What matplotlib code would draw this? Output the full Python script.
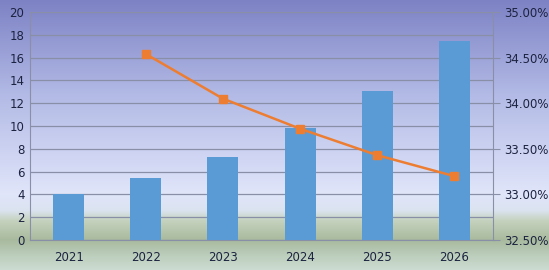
import numpy as np
import matplotlib.pyplot as plt
from matplotlib.colors import LinearSegmentedColormap
from matplotlib.ticker import FuncFormatter

years = ["2021", "2022", "2023", "2024", "2025", "2026"]
bar_values = [4.0, 5.4, 7.3, 9.8, 13.1, 17.5]
line_years = ["2022", "2023", "2024", "2025", "2026"]
line_values = [34.54, 34.05, 33.72, 33.43, 33.20]

fig = plt.figure(figsize=(5.49, 2.70), dpi=100)

# background gradient over the whole figure (top -> bottom)
bg = fig.add_axes([0, 0, 1, 1], zorder=0)
stops = [(0.0, (0.49, 0.51, 0.77)),
         (0.35, (0.70, 0.73, 0.90)),
         (0.72, (0.88, 0.90, 0.98)),
         (0.78, (0.86, 0.89, 0.94)),
         (0.82, (0.77, 0.82, 0.74)),
         (0.89, (0.66, 0.73, 0.62)),
         (0.95, (0.74, 0.81, 0.74)),
         (1.0, (0.80, 0.86, 0.82))]
cmap = LinearSegmentedColormap.from_list("bg", stops)
grad = np.linspace(0, 1, 256).reshape(-1, 1)
bg.imshow(grad, aspect="auto", cmap=cmap, extent=[0, 1, 0, 1], origin="upper")
bg.axis("off")

ax = fig.add_axes([30/549, 30/270, 463/549, 228/270], zorder=1)
ax.patch.set_alpha(0)
x = np.arange(len(years))
ax.bar(x, bar_values, width=0.4, color="#5B9BD5", zorder=3)
ax.set_xlim(-0.5, len(years) - 0.5)
ax.set_ylim(0, 20)
ax.set_yticks(range(0, 21, 2))
ax.set_xticks(x)
ax.set_xticklabels(years)
ax.grid(axis="y", color="#8a8fa8", linewidth=0.9, zorder=0)
ax.set_axisbelow(True)
for s in ["top", "right"]:
    ax.spines[s].set_visible(False)
ax.spines["left"].set_color("#8a8fa8")
ax.spines["bottom"].set_color("#8a8fa8")
ax.tick_params(axis="both", length=0, labelsize=8.5, labelcolor="#1c2340")
ax.tick_params(axis="x", pad=8)
ax.tick_params(axis="y", pad=4)

ax2 = ax.twinx()
ax2.patch.set_alpha(0)
lx = [years.index(y) for y in line_years]
ax2.plot(lx, line_values, color="#ED7D31", linewidth=1.8, marker="s",
         markersize=5.5, zorder=4)
ax2.set_ylim(32.5, 35.0)
ax2.set_yticks(np.arange(32.5, 35.01, 0.5))
ax2.yaxis.set_major_formatter(FuncFormatter(lambda v, p: "%.2f%%" % v))
for s in ["top", "left", "bottom"]:
    ax2.spines[s].set_visible(False)
ax2.spines["right"].set_color("#8a8fa8")
ax2.tick_params(axis="y", length=5, color="#8a8fa8", labelsize=8.5,
                labelcolor="#1c2340", pad=3)

fig.savefig("out.png", dpi=100)
